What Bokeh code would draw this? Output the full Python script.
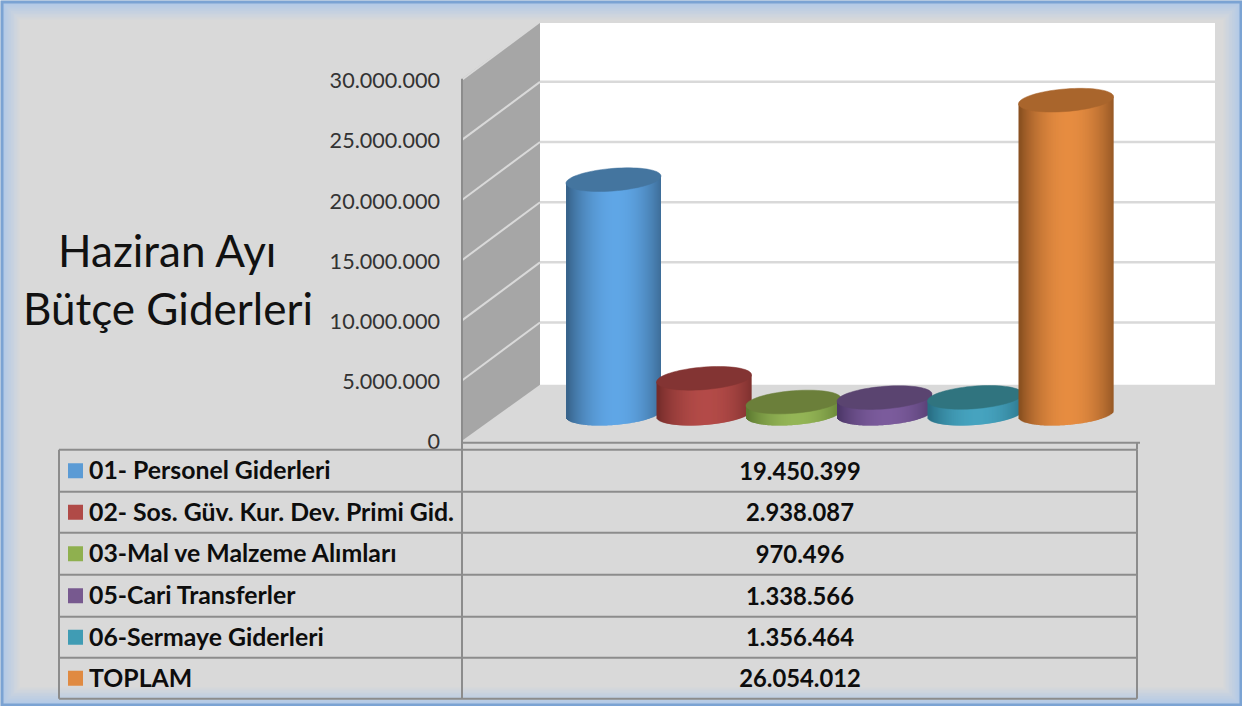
import math
from bokeh.plotting import figure
from bokeh.models import Range1d
from bokeh.core.properties import value as bk_value
from bokeh.embed import file_html
from bokeh.resources import INLINE

categories = ["01- Personel Giderleri", "02- Sos. Güv. Kur. Dev. Primi Gid.", "03-Mal ve Malzeme Alımları",
              "05-Cari Transferler", "06-Sermaye Giderleri", "TOPLAM"]
values = [19450399, 2938087, 970496, 1338566, 1356464, 26054012]
tick_values = [0, 5000000, 10000000, 15000000, 20000000, 25000000, 30000000]
title_lines = ["Haziran Ayı", "Bütçe Giderleri"]
mid_colors = ["#5fa6e6", "#b34b48", "#94b556", "#7b5b9c", "#46a3bf", "#e68c41"]
edge_colors = ["#38648c", "#762d2b", "#5d7a30", "#4d3768", "#286f84", "#8a5121"]
top_colors = ["#44759f", "#833433", "#6b7f3a", "#5a4470", "#30747f", "#a9652c"]
swatch_colors = ["#5b9bd5", "#b04a47", "#8fb04f", "#77598f", "#409cb4", "#e08a41"]

FONT = bk_value("Lato")
PX = 30000000 / 361.0            # value units per reference pixel
W, H = 1242, 706
DX, DY = 0.5, 0.8

p = figure(width=W, height=H, x_range=Range1d(DX, W + DX), y_range=Range1d(H + DY, DY),
           x_axis_type=None, y_axis_type=None, toolbar_location=None, tools="",
           output_backend="svg", min_border=0, outline_line_color=None,
           background_fill_color="#d9d9d9", border_fill_color="#d9d9d9")
p.grid.visible = False
p.extra_y_ranges = {"value": Range1d(-(H + DY - 441) * PX, (441 - DY) * PX)}


def hexrgb(c):
    return [int(c[i:i + 2], 16) for i in (1, 3, 5)]


def mix(a, b, f):
    ra, rb = hexrgb(a), hexrgb(b)
    return "#%02x%02x%02x" % tuple(int(round(x + (y - x) * f)) for x, y in zip(ra, rb))


# frame: outer blue line fading into the grey through the inner glow
p.quad(left=-5, right=W + 5, top=-5, bottom=H + 5, fill_color="#7ba3d3", line_color=None)
steps = 12
for i in range(steps):
    d = 3 + i * 1.5
    col = mix("#b4cae6", "#d9d9d9", i / (steps - 1))
    p.quad(left=d + DX, right=W + DX - d, top=d + DY, bottom=H + DY - d, fill_color=col, line_color=None)

# walls and floor
p.patch([540, 1215, 1215, 540], [22, 22, 385, 385], fill_color="#ffffff", line_color=None)
p.patch([462, 540, 540, 462], [79, 22, 385, 441], fill_color="#a6a6a6", line_color=None)
for tv in tick_values[1:]:
    y0 = 441 - tv / PX
    p.line([462, 540], [y0, y0 - 58], line_color="#d9d9d9", line_width=2)
    p.line([540, 1215], [y0 - 58, y0 - 58], line_color="#d9d9d9", line_width=2.5)
p.line([540, 1215], [22, 22], line_color="#d9d9d9", line_width=2)
p.line([462, 462], [79, 699], line_color="#8c8c8c", line_width=2)
p.line([462, 1140], [443, 443], line_color="#8c8c8c", line_width=2)
p.line([1137, 1137], [443, 450], line_color="#8c8c8c", line_width=2)

# cylinders: overlapping strips so that no background shows through the seams
centers = [613.5, 704, 793.5, 884.5, 975, 1066]
HALF_W, TILT, MINOR, BASE_Y = 47.5, 3.6, 11.3, 414.0
b0 = (441 - BASE_Y) * PX
for cat_i, (cx, val) in enumerate(zip(centers, values)):
    n = int(2 * HALF_W)
    L, R, T, B, C = [], [], [], [], []
    for j in range(n):
        x0 = cx - HALF_W + j
        u = ((x0 + 0.5) - cx) / HALF_W
        s = math.sqrt(max(0.0, 1 - u * u))
        L.append(x0)
        R.append(min(x0 + 1.8, cx + HALF_W))
        T.append(val + b0 + TILT * u * PX)
        B.append(b0 + (TILT * u - MINOR * s) * PX)
        shade = math.cos(min(1.0, abs(u - 0.05)) * math.pi / 2) ** 0.8
        C.append(mix(edge_colors[cat_i], mid_colors[cat_i], shade))
    p.quad(left=L, right=R, top=T, bottom=B, fill_color=C, line_color=None,
           y_range_name="value")
    ex, ey = [], []
    for k in range(73):
        t = 2 * math.pi * k / 72
        ex.append(cx + HALF_W * math.cos(t))
        ey.append(val + b0 + (TILT * math.cos(t) + MINOR * math.sin(t)) * PX)
    p.patch(ex, ey, fill_color=top_colors[cat_i], line_color=top_colors[cat_i], line_width=0.5,
            y_range_name="value")

# value labels of the axis
p.text(x=[440] * len(tick_values), y=tick_values,
       text=[f"{v:,}".replace(",", ".") for v in tick_values], y_range_name="value",
       text_font=FONT, text_font_size="21.6px", text_color="#333333",
       text_align="right", text_baseline="middle", y_offset=1)

# title
p.text(x=[168, 168], y=[250, 308], text=title_lines, text_font=FONT, text_font_size="44px",
       text_color="#111111", text_align="center", text_baseline="middle")

# data table
rows = [450, 492, 533, 575, 617, 658, 699]
for ry in rows:
    p.line([59, 1137], [ry, ry], line_color="#8c8c8c", line_width=2)
p.line([59, 59], [450, 699], line_color="#8c8c8c", line_width=2)
p.line([1137, 1137], [450, 699], line_color="#8c8c8c", line_width=2)
mids = [(a + b) / 2 for a, b in zip(rows[:-1], rows[1:])]
p.quad(left=[68] * 6, right=[83] * 6, top=[m - 7.5 for m in mids], bottom=[m + 7.5 for m in mids],
       fill_color=swatch_colors, line_color=None)
p.text(x=[89] * 6, y=[m - 1 for m in mids], text=categories, text_font=FONT, text_font_size="24.8px",
       text_font_style="bold", text_color="#0d0d0d", text_align="left", text_baseline="middle")
p.text(x=[800] * 6, y=mids, text=[f"{v:,}".replace(",", ".") for v in values], text_font=FONT,
       text_font_size="23.8px", text_font_style="bold", text_color="#0d0d0d",
       text_align="center", text_baseline="middle")

open("out.html", "w").write(file_html(p, INLINE))
